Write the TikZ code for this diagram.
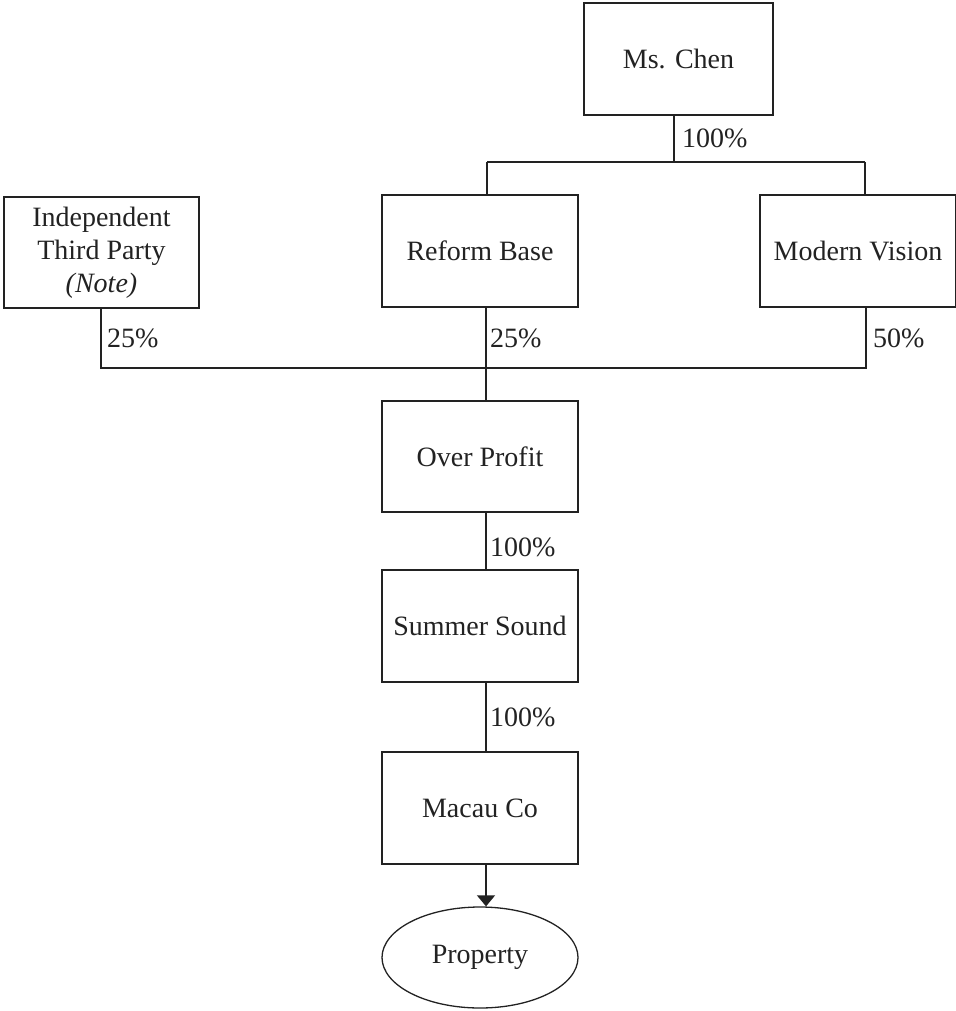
\documentclass[tikz,border=0pt]{standalone}
\usepackage{fontspec}
\setmainfont{Liberation Serif}
\usetikzlibrary{shapes.geometric,arrows.meta}
\definecolor{ink}{HTML}{222222}
\begin{document}
\begin{tikzpicture}[x=1pt,y=-1pt,
  every node/.style={font=\fontsize{28}{32}\selectfont, text=ink},
  box/.style={draw=ink, line width=1.3pt, rectangle, inner sep=0pt, align=center},
  conn/.style={draw=ink, line width=1.3pt},
  pct/.style={anchor=west, inner sep=0pt}]
\useasboundingbox (0,0) rectangle (955,1011);
% boxes
\node[box, minimum width=189pt, minimum height=112pt] (chen) at (678.5,59) {Ms. Chen};
\node[box, minimum width=195pt, minimum height=111pt, font=\fontsize{28}{33}\selectfont] (itp) at (101.5,252.5) {Independent\\Third Party\\\textit{(Note)}};
\node[box, minimum width=196pt, minimum height=112pt] (reform) at (480,251) {Reform Base};
\node[box, minimum width=196pt, minimum height=112pt] (modern) at (858,251) {Modern Vision};
\node[box, minimum width=196pt, minimum height=111pt] (over) at (480,456.5) {Over Profit};
\node[box, minimum width=196pt, minimum height=112pt] (summer) at (480,626) {Summer Sound};
\node[box, minimum width=196pt, minimum height=112pt] (macau) at (480,808) {Macau Co};
\node[draw=ink, line width=1.3pt, ellipse, minimum width=196pt, minimum height=101pt, inner sep=0pt] (prop) at (480,957.5) {Property};
% junction coordinates
\coordinate (t1) at (674,162);
\coordinate (t1l) at (487,162);
\coordinate (t1r) at (865,162);
\coordinate (bar) at (486,368);
\coordinate (barl) at (101,368);
\coordinate (barr) at (866,368);
% connectors
\draw[conn] (chen.south -| t1) -- (t1);
\draw[conn] (t1l) -- (t1r);
\draw[conn] (t1l) -- (t1l |- reform.north);
\draw[conn] (t1r) -- (t1r |- modern.north);
\draw[conn] (itp.south -| barl) -- (barl) -- (barr) -- (modern.south -| barr);
\draw[conn] (reform.south -| bar) -- (bar);
\draw[conn] (bar) -- (bar |- over.north);
\draw[conn] (over.south -| bar) -- (summer.north -| bar);
\draw[conn] (summer.south -| bar) -- (macau.north -| bar);
\draw[conn, -{Triangle[width=18pt,length=11pt]}] (macau.south -| bar) -- (prop.north -| bar);
% labels
\node[pct] (p1) at (682,138) {100\%};
\node[pct] (p2) at (107,338) {25\%};
\node[pct] (p3) at (490,338) {25\%};
\node[pct] (p4) at (873,338) {50\%};
\node[pct] (p5) at (490,547) {100\%};
\node[pct] (p6) at (490,717) {100\%};
\end{tikzpicture}
\end{document}
